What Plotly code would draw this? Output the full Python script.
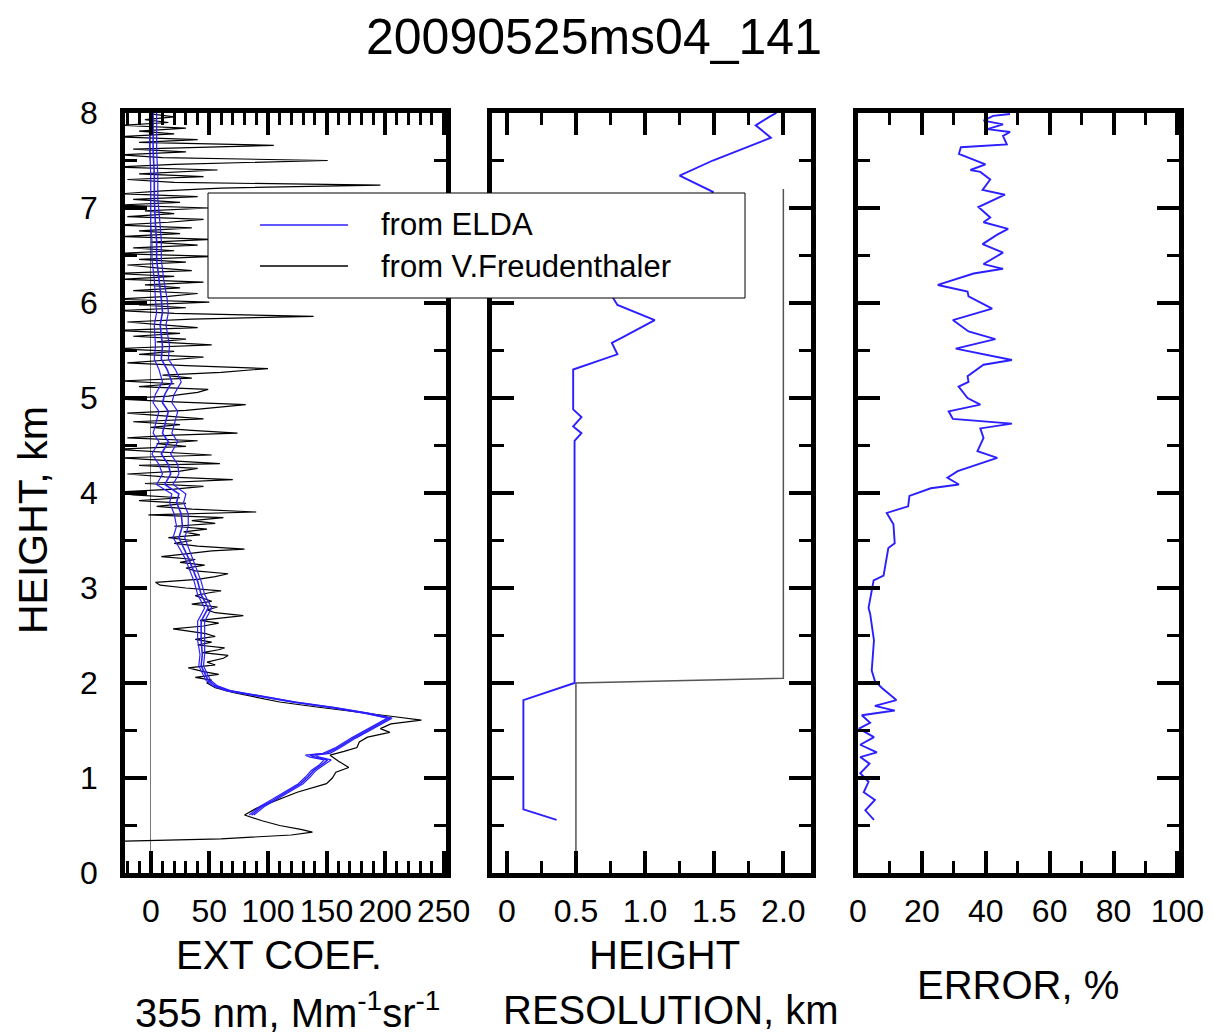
import plotly.graph_objects as go

W, H = 1213, 1035
FONT = "Liberation Sans, Arial, sans-serif"

# ---------------- data ----------------
# Panel 1: extinction coefficient, ELDA (centre + error) and V.Freudenthaler
elda_height = [0.61, 0.70, 0.77, 0.85, 0.94, 1.01, 1.08, 1.14, 1.19, 1.22, 1.24, 1.26,
               1.32, 1.42, 1.50, 1.57, 1.63, 1.68, 1.74, 1.80, 1.85, 1.92, 1.97, 2.03,
               2.18, 2.30, 2.45, 2.65, 2.79, 2.93, 3.07, 3.20, 3.32, 3.45, 3.53, 3.65,
               3.78, 3.90, 3.99, 4.09, 4.20, 4.30, 4.41, 4.54, 4.63, 4.72, 4.86, 4.95,
               5.04, 5.17, 5.30, 5.41, 5.55, 5.77, 5.90, 6.04, 6.25, 6.46, 6.65, 6.82,
               7.10, 7.35, 7.60, 7.87, 8.00]
elda_ext = [86, 95, 105, 116, 128, 134, 139, 146, 151, 140, 136, 150,
            160, 173, 185, 195, 204, 185, 156, 122, 100, 66, 55, 49,
            43, 44, 43, 43, 49, 43, 40, 36, 32, 27, 24, 27,
            26, 22, 24, 12, 17, 15, 9, 15, 10, 12, 15, 10,
            12, 18, 14, 9, 10, 8, 10, 9, 7, 5, 5, 4,
            3, 3, 2, 2, 2]
elda_err = [2, 2, 2, 2, 2, 2, 2, 2, 3, 4, 4, 3,
            2, 2, 2, 2, 2, 2, 2, 2, 2, 2, 2, 2,
            2, 2, 3, 3, 3, 3, 3, 3, 3, 4, 5, 5,
            6, 6, 6, 7, 7, 8, 8, 8, 8, 8, 8, 8,
            8, 8, 7, 6, 6, 5, 5, 5, 4, 4, 4, 4,
            3, 3, 3, 3, 3]

vf_height = [0.33, 0.36, 0.40, 0.43, 0.46, 0.50, 0.55, 0.61, 0.68, 0.77, 0.85, 0.94,
             1.00, 1.06, 1.11, 1.18, 1.24, 1.28, 1.32, 1.38, 1.43, 1.48, 1.52, 1.57,
             1.61, 1.65, 1.70, 1.75, 1.80, 1.85, 1.90, 1.95, 2.00,
             2.03, 2.06, 2.09, 2.12, 2.16, 2.19, 2.22, 2.26, 2.29, 2.32, 2.35, 2.37,
             2.40, 2.43, 2.46, 2.49, 2.52, 2.55, 2.57, 2.60, 2.63, 2.66, 2.69, 2.71,
             2.74, 2.77, 2.80, 2.83, 2.86, 2.89, 2.92, 2.95, 2.97, 3.00, 3.03, 3.06,
             3.09, 3.12, 3.15, 3.18, 3.21, 3.24, 3.27, 3.30, 3.33, 3.36, 3.39, 3.41,
             3.44, 3.47, 3.50, 3.53, 3.56, 3.59, 3.62, 3.65, 3.68, 3.71, 3.74, 3.77,
             3.80, 3.83, 3.86, 3.89, 3.92, 3.95, 3.98, 4.01, 4.04, 4.07, 4.10, 4.14,
             4.17, 4.20, 4.23, 4.26, 4.29, 4.31, 4.34, 4.37, 4.40, 4.43, 4.46, 4.49,
             4.52, 4.55, 4.58, 4.61, 4.63, 4.66, 4.69, 4.72, 4.75, 4.78, 4.81, 4.84,
             4.87, 4.90, 4.93, 4.96, 4.99, 5.02, 5.06, 5.09, 5.12, 5.15, 5.18, 5.21,
             5.24, 5.27, 5.31, 5.34, 5.37, 5.40, 5.43, 5.46, 5.49, 5.52, 5.56, 5.59,
             5.62, 5.65, 5.68, 5.71, 5.74, 5.77, 5.80, 5.83, 5.86, 5.89, 5.92, 5.95,
             5.98, 6.01, 6.04, 6.07, 6.10, 6.13, 6.16, 6.19, 6.22, 6.25, 6.28, 6.31,
             6.34, 6.37, 6.40, 6.43, 6.46, 6.49, 6.52, 6.55, 6.58, 6.61, 6.64, 6.67,
             6.70, 6.73, 6.76, 6.79, 6.82, 6.85, 6.88, 6.91, 6.94, 6.97, 7.00, 7.03,
             7.06, 7.09, 7.12, 7.15, 7.18, 7.21, 7.24, 7.27, 7.30, 7.33, 7.36, 7.40,
             7.43, 7.46, 7.50, 7.53, 7.56, 7.59, 7.62, 7.66, 7.69, 7.72, 7.75, 7.78,
             7.81, 7.84, 7.87, 7.90, 7.93, 7.96, 7.99]
vf_ext = [-40, 60, 120, 138, 128, 110, 95, 80, 90, 108, 125, 150,
          155, 158, 169, 160, 153, 165, 176, 178, 185, 204, 196, 205,
          231, 205, 170, 140, 110, 90, 70, 55, 48,
          52, 38, 58, 45, 32, 55, 48, 62, 66, 44, 58, 63,
          40, 52, 38, 55, 47, 30, 19, 45, 58, 42, 62, 79,
          55, 48, 57, 35, 52, 44, 38, 50, 60, 30, 8, 4,
          40, 55, 66, 38, 30, 46, 25, 38, 9, 30, 52, 80,
          40, 20, 35, 15, 42, 28, 48, 20, 55, 35, 62, -2,
          90, 35, 5, 30, -10, 25, -15, -30, 20, 45, -5, 70,
          12, -20, 25, 40, -10, 59, 15, -25, 52, 10, -30, 30,
          5, 40, -20, 20, 74, 35, 0, 25, -15, 45, 10, -20,
          30, 55, 81, 20, -30, 15, 40, 49, -10, 20, -25, 35,
          10, 60, 100, 30, -20, 15, 45, -10, 20, -30, 52, 5,
          30, -15, 25, -30, 40, 10, -20, 35, 139, 20, -25, 30,
          -10, 50, -30, 15, 40, -15, 25, -5, 45, -25, 20, -30,
          35, 5, -20, 30, -10, 55, -30, 20, -15, 40, 0, 52,
          -25, 25, -10, 35, -30, 15, 45, -20, 20, -5, 50, -30,
          25, -15, 40, -25, 10, 60, 196, 20, -20, 45, -10, 57,
          -30, 20, 151, 10, -25, 30, -15, 105, -10, 40, -30, 20,
          -10, 30, -25, 15, -5, 20, 0]

# Panel 2: height resolution
res_elda_height = [0.56, 0.67, 1.82, 2.00, 4.55, 4.63, 4.70, 4.80, 4.88, 5.30, 5.46,
                   5.58, 5.64, 5.82, 5.98, 6.05, 6.30, 6.70, 7.00, 7.17, 7.34, 7.50,
                   7.74, 7.87, 7.97, 8.00]
res_elda = [0.36, 0.12, 0.12, 0.49, 0.49, 0.54, 0.48, 0.54, 0.48, 0.48, 0.80,
            0.76, 0.84, 1.07, 0.80, 0.77, 0.95, 1.20, 1.45, 1.49, 1.25, 1.49,
            1.91, 1.80, 1.91, 1.95]
res_vf_height = [0.15, 2.00, 2.05, 7.20]
res_vf = [0.50, 0.50, 2.00, 2.00]

# Panel 3: error, %
err_height = [0.56, 0.66, 0.77, 0.85, 0.96, 1.05, 1.15, 1.22, 1.27, 1.35, 1.43, 1.52,
              1.58, 1.66, 1.71, 1.76, 1.82, 1.95, 2.02, 2.13, 2.45, 2.73, 2.79, 2.97,
              3.08, 3.13, 3.42, 3.47, 3.67, 3.79, 3.86, 3.97, 4.05, 4.09, 4.16, 4.23,
              4.37, 4.44, 4.58, 4.68, 4.73, 4.78, 4.86, 4.93, 5.00, 5.12, 5.17, 5.23,
              5.35, 5.40, 5.52, 5.62, 5.70, 5.82, 5.94, 6.07, 6.12, 6.19, 6.31, 6.36,
              6.41, 6.53, 6.62, 6.72, 6.78, 6.85, 6.90, 7.01, 7.14, 7.19, 7.30, 7.38,
              7.40, 7.46, 7.57, 7.64, 7.67, 7.76, 7.80, 7.83, 7.88, 7.92, 7.97, 7.99]
err_pct = [5.0, 2.3, 5.3, 1.8, 3.3, 0.7, 3.6, 0.7, 5.9, 0.7, 5.0, 0.3,
           3.8, 1.2, 11.5, 5.3, 12.0, 7.4, 5.3, 4.3, 5.0, 3.8, 3.3, 4.3,
           4.9, 8.0, 9.5, 11.5, 11.1, 9.0, 15.7, 16.1, 22.8, 31.6, 28.0, 31.2,
           43.6, 37.4, 39.3, 38.3, 48.2, 29.7, 28.4, 38.3, 34.3, 31.5, 34.6, 34.3,
           39.3, 48.2, 30.6, 43.0, 34.6, 29.7, 42.0, 34.6, 34.3, 25.0, 36.2, 45.4,
           39.3, 45.4, 39.0, 43.6, 47.0, 39.3, 41.4, 37.7, 46.0, 39.0, 41.4, 38.3,
           35.2, 39.9, 31.6, 32.2, 46.6, 45.4, 47.6, 40.5, 45.4, 39.3, 42.3, 47.6]

ext_ticks = [0, 50, 100, 150, 200, 250]
res_ticks = [0, 0.5, 1.0, 1.5, 2.0]
res_ticktext = ["0", "0.5", "1.0", "1.5", "2.0"]
err_ticks = [0, 20, 40, 60, 80, 100]
height_ticks = [0, 1, 2, 3, 4, 5, 6, 7, 8]

# ---------------- figure ----------------
BLUE = "#2b1fff"
fig = go.Figure()

elda_lo = [c - e for c, e in zip(elda_ext, elda_err)]
elda_hi = [c + e for c, e in zip(elda_ext, elda_err)]

fig.add_trace(go.Scatter(x=vf_ext, y=vf_height, mode="lines", line=dict(color="black", width=1.2),
                         xaxis="x", yaxis="y", showlegend=False, name="from V.Freudenthaler"))
for xs in (elda_lo, elda_hi):
    fig.add_trace(go.Scatter(x=xs, y=elda_height, mode="lines", line=dict(color=BLUE, width=1.2),
                             xaxis="x", yaxis="y", showlegend=False))
fig.add_trace(go.Scatter(x=elda_ext, y=elda_height, mode="lines", line=dict(color=BLUE, width=1.6),
                         xaxis="x", yaxis="y", showlegend=False, name="from ELDA"))

fig.add_trace(go.Scatter(x=res_vf, y=res_vf_height, mode="lines", line=dict(color="#555555", width=1.5),
                         xaxis="x2", yaxis="y2", showlegend=False))
fig.add_trace(go.Scatter(x=res_elda, y=res_elda_height, mode="lines", line=dict(color=BLUE, width=1.9),
                         xaxis="x2", yaxis="y2", showlegend=False))

fig.add_trace(go.Scatter(x=err_pct, y=err_height, mode="lines", line=dict(color=BLUE, width=1.9),
                         xaxis="x3", yaxis="y3", showlegend=False))


def px(x):
    return x / W


def py(y):
    return 1 - y / H


ydom = [py(873), py(113)]
tickfont = dict(size=32, family=FONT, color="black")
common = dict(showline=True, linewidth=4.5, linecolor="black", mirror="ticks",
              ticks="inside", ticklen=22, tickwidth=3.5, tickcolor="black",
              showgrid=False, tickfont=tickfont, automargin=False, tickangle=0)


def minor(d):
    return dict(dtick=d, ticks="inside", ticklen=12, tickwidth=3, tickcolor="black", showgrid=False)


fig.update_layout(
    width=W, height=H, margin=dict(l=0, r=0, t=0, b=0, autoexpand=False),
    paper_bgcolor="white", plot_bgcolor="white", showlegend=False,
    xaxis=dict(domain=[px(125), px(446)], range=[-22, 252], tickvals=ext_ticks,
               minor=minor(10), anchor="y", ticklabelstandoff=6, zeroline=True,
               zerolinecolor="#777777", zerolinewidth=1, **common),
    xaxis2=dict(domain=[px(492), px(811)], range=[-0.107, 2.2], tickvals=res_ticks,
                ticktext=res_ticktext, minor=minor(0.25), anchor="y2", ticklabelstandoff=6,
                zeroline=False, **common),
    xaxis3=dict(domain=[px(858), px(1179)], range=[0, 100.5], tickvals=err_ticks,
                minor=minor(10), anchor="y3", ticklabelstandoff=6, zeroline=False, **common),
    yaxis=dict(domain=ydom, range=[0, 8], tickvals=height_ticks, minor=minor(0.5),
               anchor="x", ticklabelstandoff=16, zeroline=False, **common),
    yaxis2=dict(domain=ydom, range=[0, 8], tickvals=height_ticks, minor=minor(0.5),
                anchor="x2", showticklabels=False, zeroline=False, **common),
    yaxis3=dict(domain=ydom, range=[0, 8], tickvals=height_ticks, minor=minor(0.5),
                anchor="x3", showticklabels=False, zeroline=False, **common),
)

# legend (drawn as box, sample lines and text)
fig.add_shape(type="rect", xref="paper", yref="paper", x0=px(208), x1=px(745), y0=py(298), y1=py(193),
              line=dict(color="black", width=1), fillcolor="white", layer="above")
fig.add_shape(type="line", xref="paper", yref="paper", x0=px(260), x1=px(348), y0=py(225), y1=py(225),
              line=dict(color=BLUE, width=1.5), layer="above")
fig.add_shape(type="line", xref="paper", yref="paper", x0=px(260), x1=px(348), y0=py(266), y1=py(266),
              line=dict(color="black", width=1.5), layer="above")

ann = []


def text(x, y, s, size, **kw):
    d = dict(x=px(x), y=py(y), xref="paper", yref="paper", text=s, showarrow=False,
             font=dict(size=size, family=FONT, color="black"), xanchor="center", yanchor="middle")
    d.update(kw)
    ann.append(d)


text(379, 225, "from ELDA", 31, xanchor="left")
text(379, 266, "from V.Freudenthaler", 31, xanchor="left")
text(594, 37, "20090525ms04_141", 50)
text(33, 520, "HEIGHT, km", 41, textangle=-90)
text(279, 955, "EXT COEF.", 40)
text(287, 1010, "355 nm, Mm<sup>-1</sup>sr<sup>-1</sup>", 40)
text(664, 955, "HEIGHT", 40)
text(671, 1010, "RESOLUTION, km", 40)
text(1018, 985, "ERROR, %", 40)
fig.update_layout(annotations=ann)

fig.write_html("out.html")
